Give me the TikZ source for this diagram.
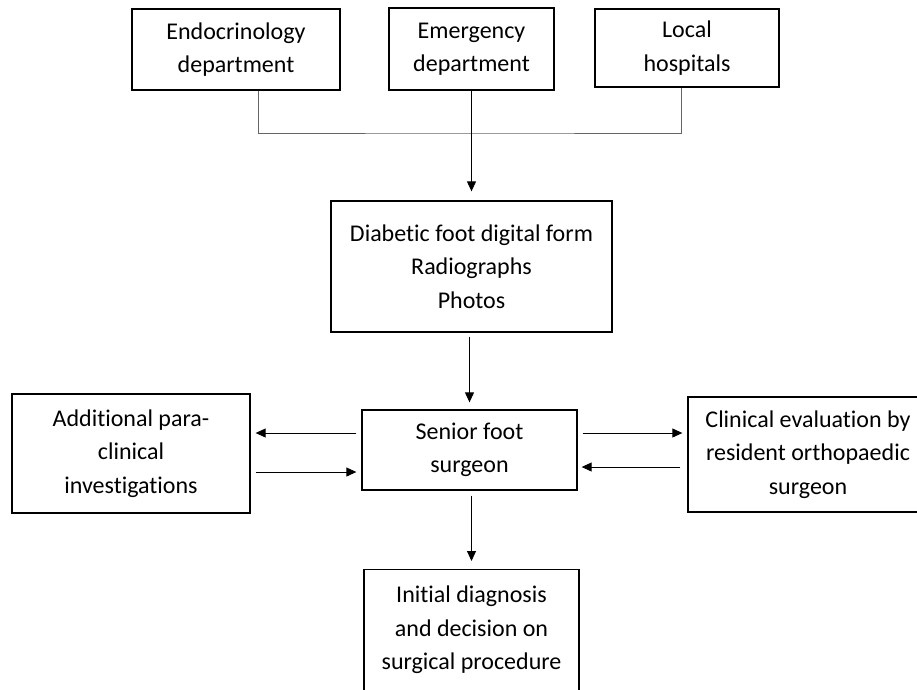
\documentclass[tikz,border=0pt]{standalone}
\usepackage{fontspec}
\setmainfont{Carlito}[Ligatures=NoCommon]
\usetikzlibrary{arrows.meta}
\tikzset{box/.style={draw, line width=1.3pt, align=center, inner sep=0pt,
                     font=\fontsize{24}{33.5}\selectfont},
         link/.style={draw=black!60, line width=0.9pt},
         arr/.style={-{Triangle[length=10pt,width=9pt]}, line width=0.9pt},
        }

\begin{document}
\begin{tikzpicture}[x=1pt, y=-1pt]
        \useasboundingbox (0,0) rectangle (917,689);

        \node[box, minimum width=208, minimum height=81](endo)at(236,49.5){Endocrinology\\department};
        \node[box, minimum width=165, minimum height=82](emerg)at(471.5,49){Emergency\\department};
        \node[box, minimum width=184, minimum height=78](local)at(687,48){Local\\hospitals};
        \node[box, minimum width=281, minimum height=131](form)at(471.5,266.5){Diabetic foot digital form\\Radiographs\\Photos};
        \node[box, minimum width=215, minimum height=80](senior)at(469.5,450){Senior foot\\surgeon};
        \node[box, minimum width=238, minimum height=119](addl)at(131,453.5){Additional para-\\clinical\\investigations};
        \node[box, minimum width=240, minimum height=115](clin)at(808,454.5){Clinical evaluation by\\resident orthopaedic\\surgeon};
        \node[box, minimum width=215, minimum height=150, anchor=north](diag)at(471.5,569){Initial diagnosis\\and decision on\\surgical procedure\\ \mbox{}};

        \coordinate(join)at(470,133);
        \draw[link]([xshift=22pt]endo.south) |- (join) -| ([xshift=-6pt]local.south);
        \draw[arr, shorten >=9pt](emerg.south)--(form.north);

        \draw[arr, shorten <=4pt, shorten >=7pt](form.south -| senior.north)--(senior.north);
        \draw[arr, shorten <=5pt, shorten >=8pt]([xshift=2pt]senior.south)--([xshift=2pt]senior.south |- diag.north);

        \draw[arr, shorten <=5pt, shorten >=5pt]([yshift=17pt]senior.west)--([yshift=17pt]senior.west -| addl.east);
        \draw[arr, shorten <=5pt, shorten >=5pt]([yshift=-22pt]addl.east |- senior.west)--([yshift=-22pt]senior.west);
        \draw[arr, shorten <=5pt, shorten >=5pt]([yshift=17pt]senior.east)--([yshift=17pt]senior.east -| clin.west);
        \draw[arr, shorten <=7pt, shorten >=4pt]([yshift=-17pt]clin.west |- senior.east)--([yshift=-17pt]senior.east);
    \end{tikzpicture}
\end{document}
